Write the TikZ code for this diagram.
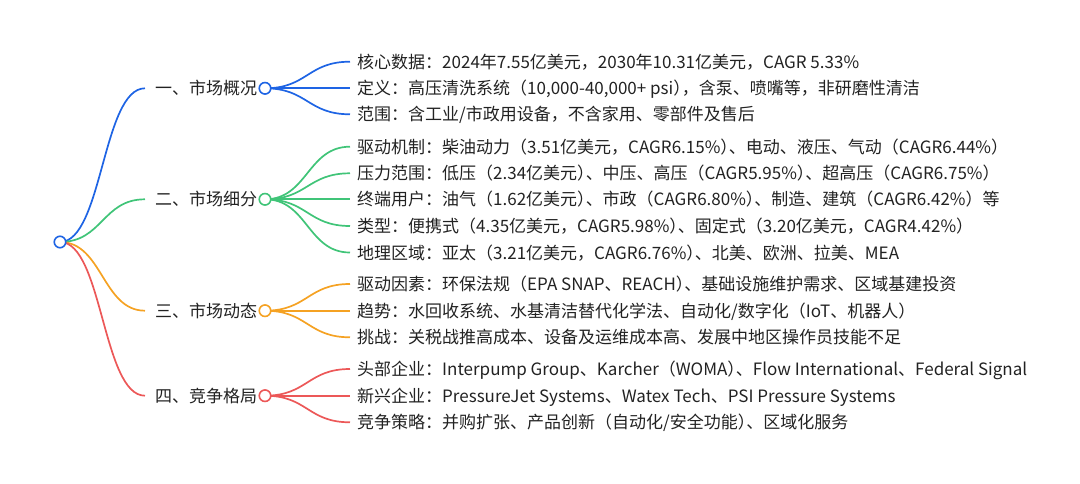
\documentclass[tikz,border=0pt]{standalone}
\usepackage{fontspec}
\setmainfont{Noto Sans CJK SC}
\usetikzlibrary{calc}
\definecolor{cblue}{RGB}{30,100,228}
\definecolor{cgreen}{RGB}{64,196,120}
\definecolor{corange}{RGB}{245,162,35}
\definecolor{cred}{RGB}{236,88,88}
\definecolor{ctext}{RGB}{34,34,34}
\newcommand{\rp}{）\kern-0.5em}
\tikzset{
  link/.style={line width=1.7pt, to path={let \p1=(\tikztostart), \p2=(\tikztotarget) in .. controls ({(\x1+\x2)/2},\y1) and ({(\x1+\x2)/2},\y2) .. (\tikztotarget) \tikztonodes}},
  dot/.style={circle, draw, fill=white, line width=1.6pt, minimum size=11.5pt, inner sep=0pt},
  lvone/.style={anchor=west, inner xsep=10pt, inner ysep=0pt, text height=15pt, text depth=2pt, text=ctext, font=\fontsize{17}{20}\selectfont},
  leaf/.style={anchor=west, inner xsep=7pt, inner ysep=0pt, text height=15pt, text depth=2pt, text=ctext, font=\fontsize{17}{20}\selectfont},
}
\begin{document}
\begin{tikzpicture}[x=1pt,y=-1pt]
\useasboundingbox (0,0) rectangle (1080,484);
% level 1 text
\node[lvone] (t1) at (145,88.3) {一、市场概况};
\node[lvone] (t2) at (145,199.3) {二、市场细分};
\node[lvone] (t3) at (145,310.7) {三、市场动态};
\node[lvone] (t4) at (145,395.7) {四、竞争格局};
% leaves
\node[leaf] (l11) at (350,61.7) {核心数据：2024年7.55亿美元，2030年10.31亿美元，CAGR 5.33\%};
\node[leaf] (l12) at (350,88.3) {定义：高压清洗系统（10,000-40,000+ psi\rp，含泵、喷嘴等，非研磨性清洁};
\node[leaf] (l13) at (350,114.3) {范围：含工业/市政用设备，不含家用、零部件及售后};
\node[leaf] (l21) at (350,146.7) {驱动机制：柴油动力（3.51亿美元，CAGR6.15\%\rp、电动、液压、气动（CAGR6.44\%）};
\node[leaf] (l22) at (350,173.3) {压力范围：低压（2.34亿美元\rp、中压、高压（CAGR5.95\%\rp、超高压（CAGR6.75\%）};
\node[leaf] (l23) at (350,199.3) {终端用户：油气（1.62亿美元\rp、市政（CAGR6.80\%\rp、制造、建筑（CAGR6.42\%）等};
\node[leaf] (l24) at (350,226) {类型：便携式（4.35亿美元，CAGR5.98\%\rp、固定式（3.20亿美元，CAGR4.42\%）};
\node[leaf] (l25) at (350,252.5) {地理区域：亚太（3.21亿美元，CAGR6.76\%\rp、北美、欧洲、拉美、MEA};
\node[leaf] (l31) at (350,284) {驱动因素：环保法规（EPA SNAP、REACH\rp、基础设施维护需求、区域基建投资};
\node[leaf] (l32) at (350,310.7) {趋势：水回收系统、水基清洁替代化学法、自动化/数字化（IoT、机器人）};
\node[leaf] (l33) at (350,337.3) {挑战：关税战推高成本、设备及运维成本高、发展中地区操作员技能不足};
\node[leaf] (l41) at (350,369) {头部企业：Interpump Group、Karcher（WOMA\rp、Flow International、Federal Signal};
\node[leaf] (l42) at (350,395.7) {新兴企业：PressureJet Systems、Watex Tech、PSI Pressure Systems};
\node[leaf] (l43) at (350,422.3) {竞争策略：并购扩张、产品创新（自动化/安全功能\rp、区域化服务};
% circle positions
\coordinate (rc) at (60,242);
\coordinate (c1p) at (265,88.3);
\coordinate (c2p) at (265,199.3);
\coordinate (c3p) at (265,310.7);
\coordinate (c4p) at (265,395.7);
% links root
\draw[link, cblue] (rc) to (t1.west);
\draw[link, cgreen] (rc) to (t2.west);
\draw[link, corange] (rc) to (t3.west);
\draw[link, cred] (rc) to (t4.west);
% links level 1 to leaves
\foreach \l in {l11,l12,l13} \draw[link, cblue] (c1p) to (\l.west);
\foreach \l in {l21,l22,l23,l24,l25} \draw[link, cgreen] (c2p) to (\l.west);
\foreach \l in {l31,l32,l33} \draw[link, corange] (c3p) to (\l.west);
\foreach \l in {l41,l42,l43} \draw[link, cred] (c4p) to (\l.west);
% circles
\node[dot, draw=cblue] (r) at (rc) {};
\node[dot, draw=cblue] (c1) at (c1p) {};
\node[dot, draw=cgreen] (c2) at (c2p) {};
\node[dot, draw=corange] (c3) at (c3p) {};
\node[dot, draw=cred] (c4) at (c4p) {};
\end{tikzpicture}
\end{document}
